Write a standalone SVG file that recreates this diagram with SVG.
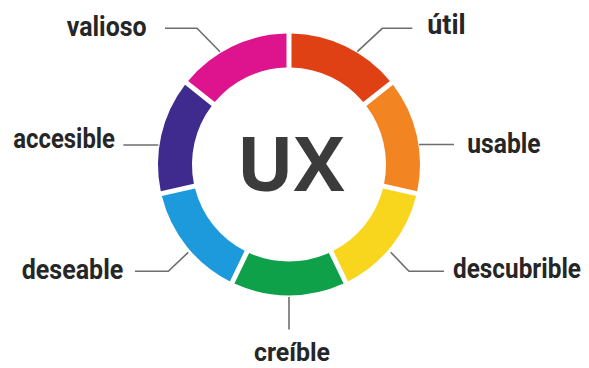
<svg xmlns="http://www.w3.org/2000/svg" xmlns:xlink="http://www.w3.org/1999/xlink" width="589" height="368" viewBox="0 0 589 368">
<style>
.lbl{font-family:Roboto,"Liberation Sans",sans-serif;font-weight:bold;font-size:27px;fill:#262626}
.ux{font-family:"Open Sans","Liberation Sans",sans-serif;font-weight:bold;font-size:76px;fill:#3b3b3b}
.con{fill:none;stroke:#6e6e6e;stroke-width:1.6}
</style>
<defs>
<path id="seg" d="M -54.575 -119.091 A 131 131 0 0 1 54.575 -119.091 L 39.82 -88.45 A 97 97 0 0 0 -39.82 -88.45 Z"/>
</defs>
<rect width="589" height="368" fill="#ffffff"/>
<g id="connectors">
<path class="con" d="M165 28.3 H197 L220 51.7"/>
<path class="con" d="M412.3 28.3 H382.3 L357.3 51.7"/>
<path class="con" d="M123.3 145 H158.3"/>
<path class="con" d="M419 144.5 H454"/>
<path class="con" d="M135 271.3 H168.3 L188.3 252.3"/>
<path class="con" d="M444 271.3 H409 L390.7 252.3"/>
<path class="con" d="M289 297 V329.5"/>
</g>
<g id="ring" transform="translate(289 164.5)">
<g id="seg-util"><use xlink:href="#seg" href="#seg" transform="rotate(25.714)" fill="#DF4115"/></g>
<g id="seg-usable"><use xlink:href="#seg" href="#seg" transform="rotate(77.143)" fill="#F28522"/></g>
<g id="seg-descubrible"><use xlink:href="#seg" href="#seg" transform="rotate(128.571)" fill="#F9D61E"/></g>
<g id="seg-creible"><use xlink:href="#seg" href="#seg" transform="rotate(180)" fill="#0FA04A"/></g>
<g id="seg-deseable"><use xlink:href="#seg" href="#seg" transform="rotate(231.429)" fill="#1C9ADB"/></g>
<g id="seg-accesible"><use xlink:href="#seg" href="#seg" transform="rotate(282.857)" fill="#3F2A8E"/></g>
<g id="seg-valioso"><use xlink:href="#seg" href="#seg" transform="rotate(334.286)" fill="#DE148E"/></g>
</g>
<g id="center"><text class="ux" x="290.5" y="190.7" text-anchor="middle">UX</text></g>
<g id="valioso"><text class="lbl" x="66.7" y="35.7" textLength="80" lengthAdjust="spacingAndGlyphs">valioso</text></g>
<g id="util"><text class="lbl" x="427.3" y="34.3" textLength="38.4" lengthAdjust="spacingAndGlyphs">útil</text></g>
<g id="accesible"><text class="lbl" x="13.3" y="148.3" textLength="101.7" lengthAdjust="spacingAndGlyphs">accesible</text></g>
<g id="usable"><text class="lbl" x="467.3" y="153.3" textLength="73.4" lengthAdjust="spacingAndGlyphs">usable</text></g>
<g id="deseable"><text class="lbl" x="21.7" y="278.5" textLength="101.6" lengthAdjust="spacingAndGlyphs">deseable</text></g>
<g id="descubrible"><text class="lbl" x="0" y="0" transform="translate(453 277.5) scale(0.9 1)" textLength="142.2" lengthAdjust="spacingAndGlyphs">descubrible</text></g>
<g id="creible"><text class="lbl" x="254" y="361" textLength="76" lengthAdjust="spacingAndGlyphs" style="font-size:26px">creíble</text></g>
</svg>
